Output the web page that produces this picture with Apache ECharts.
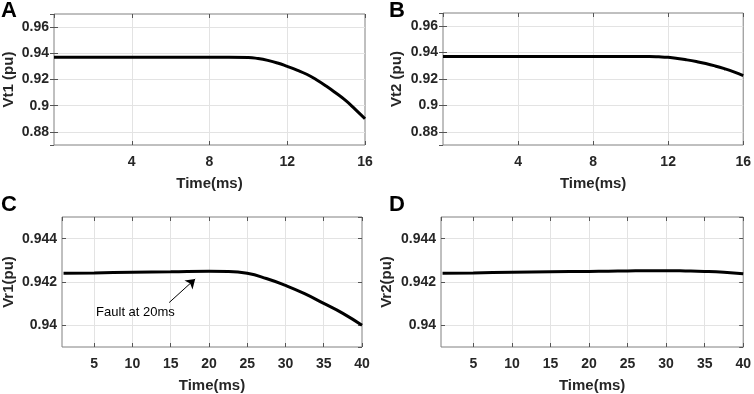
<!DOCTYPE html>
<html>
<head>
<meta charset="utf-8">
<script src="https://cdn.jsdelivr.net/npm/echarts@6/dist/echarts.min.js"></script>
<style>
  html, body { margin: 0; padding: 0; background: #fff; }
  #chart { width: 754px; height: 394px; }
</style>
</head>
<body>
<div id="chart"></div>
<script>
// panel A / B: terminal voltages, time 0-16 ms
const timeAB = [0, 2, 4, 6, 8, 9, 10, 10.5, 11, 11.5, 12, 12.5, 13, 13.5, 14, 14.5, 15, 15.5, 16];
const vt1 = [0.937, 0.937, 0.937, 0.937, 0.937, 0.937, 0.9368, 0.936, 0.9346, 0.9326, 0.930, 0.9272, 0.924, 0.9198, 0.915, 0.9097, 0.904, 0.8972, 0.890];
const vt2 = [0.937, 0.937, 0.937, 0.937, 0.937, 0.937, 0.937, 0.937, 0.937, 0.9368, 0.9364, 0.9356, 0.9345, 0.9332, 0.9317, 0.9299, 0.9278, 0.9254, 0.9226];

// panel C / D: receiving-end voltages, time 1-40 ms
const timeCD = [1, 5, 10, 15, 20, 22.5, 25, 27.5, 30, 32.5, 35, 37.5, 40];
const vr1 = [0.9424, 0.94242, 0.94245, 0.94247, 0.9425, 0.94249, 0.9424, 0.94216, 0.94184, 0.94146, 0.94101, 0.94055, 0.9400];
const vr2 = [0.9424, 0.94242, 0.94245, 0.94247, 0.94249, 0.9425, 0.94251, 0.94252, 0.94252, 0.94251, 0.94249, 0.94245, 0.94238];

const yNames = ['Vt1 (pu)', 'Vt2 (pu)', 'Vr1(pu)', 'Vr2(pu)'];
const panelLetters = ['A', 'B', 'C', 'D'];

const pairs = (xs, ys) => xs.map((x, i) => [x, ys[i]]);

const font = 'Liberation Sans, Arial, sans-serif';
const gridLine = { show: true, showMinLine: false, showMaxLine: false, lineStyle: { color: '#e3e3e3', width: 1 } };
const tick = { inside: true, length: 4, lineStyle: { color: '#555' } };

const grids = [
  { left: 53, top: 14, width: 312, height: 131 },
  { left: 443, top: 13, width: 304, height: 132 },
  { left: 61, top: 217, width: 301, height: 132 },
  { left: 441, top: 217, width: 304, height: 132 },
].map(g => ({ ...g, show: true, borderColor: '#808080', borderWidth: 1, containLabel: false }));

const xRange = [
  { min: 0, max: 16, interval: 4 },
  { min: 0, max: 16, interval: 4 },
  { min: 0.8, max: 40, splitNumber: 8 },
  { min: 0.8, max: 40, splitNumber: 8 },
];
const yRange = [
  { min: 0.87, max: 0.97, splitNumber: 5 },
  { min: 0.87, max: 0.97, splitNumber: 5 },
  { min: 0.939, max: 0.945, splitNumber: 3 },
  { min: 0.939, max: 0.945, splitNumber: 3 },
];
const yGap = [38, 39, 46, 47];

const xAxes = [];
const yAxes = [];
for (let i = 0; i < 4; i++) {
  xAxes.push({
    type: 'value', gridIndex: i, ...xRange[i],
    name: 'Time(ms)', nameLocation: 'middle', nameGap: 31,
    nameTextStyle: { fontFamily: font, fontWeight: 'bold', fontSize: 15, color: '#262626' },
    axisLine: { show: false },
    axisTick: tick,
    axisLabel: { showMinLabel: false, margin: 10, fontFamily: font, fontWeight: 'bold', fontSize: 14, color: '#262626' },
    splitLine: gridLine,
  });
  yAxes.push({
    type: 'value', gridIndex: i, ...yRange[i],
    name: yNames[i], nameLocation: 'middle', nameGap: yGap[i],
    nameTextStyle: { fontFamily: font, fontWeight: 'bold', fontSize: 15, color: '#262626' },
    axisLine: { show: false },
    axisTick: tick,
    axisLabel: { showMinLabel: false, showMaxLabel: false, margin: 5, fontFamily: font, fontWeight: 'bold', fontSize: 14, color: '#262626' },
    splitLine: gridLine,
  });
}
// box ticks on top and right edges
for (let i = 0; i < 4; i++) {
  xAxes.push({
    type: 'value', gridIndex: i, position: 'top', ...xRange[i],
    axisLine: { show: false }, axisLabel: { show: false }, splitLine: { show: false },
    axisTick: tick,
  });
  yAxes.push({
    type: 'value', gridIndex: i, position: 'right', ...yRange[i],
    axisLine: { show: false }, axisLabel: { show: false }, splitLine: { show: false },
    axisTick: tick,
  });
}

const lineSeries = (i, data) => ({
  type: 'line', xAxisIndex: i, yAxisIndex: i, data,
  showSymbol: false, smooth: 0.5, color: '#000',
  lineStyle: { width: 3, color: '#000' },
});

const seriesC = lineSeries(2, pairs(timeCD, vr1));
seriesC.markLine = {
  silent: true, symbol: ['none', 'arrow'], symbolSize: 9,
  label: { show: false },
  lineStyle: { color: '#000', width: 1, type: 'solid' },
  data: [[{ coord: [14.8, 0.94105] }, { coord: [18.2, 0.94214] }]],
};
seriesC.markPoint = {
  silent: true, symbolSize: 0,
  label: { show: true, formatter: 'Fault at 20ms', fontFamily: font, fontSize: 13, color: '#000' },
  data: [{ coord: [10.4, 0.94058] }],
};

const option = {
  animation: false,
  backgroundColor: '#fff',
  grid: grids,
  xAxis: xAxes,
  yAxis: yAxes,
  series: [
    lineSeries(0, pairs(timeAB, vt1)),
    lineSeries(1, pairs(timeAB, vt2)),
    seriesC,
    lineSeries(3, pairs(timeCD, vr2)),
  ],
  graphic: panelLetters.map((t, i) => ({
    type: 'text',
    left: i % 2 === 0 ? 1 : 389,
    top: i < 2 ? 0 : 194,
    style: { text: t, fontFamily: font, fontWeight: 'bold', fontSize: 22, fill: '#000' },
  })),
};

const chart = echarts.init(document.getElementById('chart'));
chart.setOption(option);
</script>
</body>
</html>
